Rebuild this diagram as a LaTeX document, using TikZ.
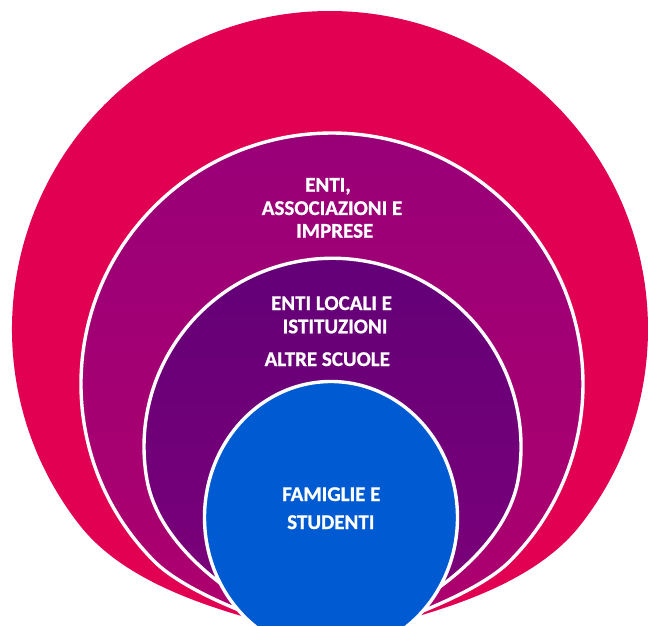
\documentclass[tikz,border=0pt]{standalone}
\usepackage{fontspec}
\setmainfont{Carlito}
\newfontfamily\lblfont{Carlito Bold}[FakeBold=0.8]
\definecolor{cRed}{HTML}{E10051}
\definecolor{cMagTop}{HTML}{980079}
\definecolor{cMagBot}{HTML}{AE006D}
\definecolor{cPurTop}{HTML}{630078}
\definecolor{cPurBot}{HTML}{7E0079}
\definecolor{cBlue}{HTML}{005AD2}
\tikzset{
  ringline/.style={draw=white, line width=3.4pt},
  lbl/.style={text=white, inner sep=0pt, anchor=base,
    font=\lblfont\fontsize{21}{24}\selectfont}
}
\begin{document}
\begin{tikzpicture}[x=1pt,y=1pt]
\useasboundingbox (0,0) rectangle (648,625);
\clip (0,0) rectangle (648,625);
% outer red shape
\fill[cRed] (79.4,100.2) arc[start angle=218, end angle=-38, radius=318]
  .. controls (522.1,25.3) and (394,4) .. (330,-15)
  .. controls (266,4) and (137.9,25.3) .. (79.4,100.2) -- cycle;
% magenta shape
\path[ringline, top color=cMagTop, bottom color=cMagBot]
  (154.5,63.5) arc[start angle=225, end angle=-45, radius=251]
  .. controls (477.7,31.7) and (392,-1) .. (332,-15)
  .. controls (272,-1) and (186.3,31.7) .. (154.5,63.5) -- cycle;
% purple shape
\path[ringline, top color=cPurTop, bottom color=cPurBot]
  (146.9,145.5) arc[start angle=190, end angle=-10, radius=188.5]
  .. controls (504.2,66.7) and (403,5) .. (332.5,-15)
  .. controls (262,5) and (160.8,66.7) .. (146.9,145.5) -- cycle;
% blue inner shape
\path[ringline, fill=cBlue] (331,107.5) ellipse[x radius=126.5, y radius=136];
% labels
\node[lbl] (t1) at (328,433.3) {ENTI,};
\node[lbl] (t2) at (332,410) {ASSOCIAZIONI E};
\node[lbl] (t3) at (334.7,387.3) {IMPRESE};
\node[lbl] (t4) at (331.5,315) {ENTI LOCALI E};
\node[lbl] (t5) at (335,291.7) {ISTITUZIONI};
\node[lbl] (t6) at (327.3,259) {ALTRE SCUOLE};
\node[lbl] (t7) at (331.3,124) {FAMIGLIE E};
\node[lbl] (t8) at (330.8,96) {STUDENTI};
\end{tikzpicture}
\end{document}
